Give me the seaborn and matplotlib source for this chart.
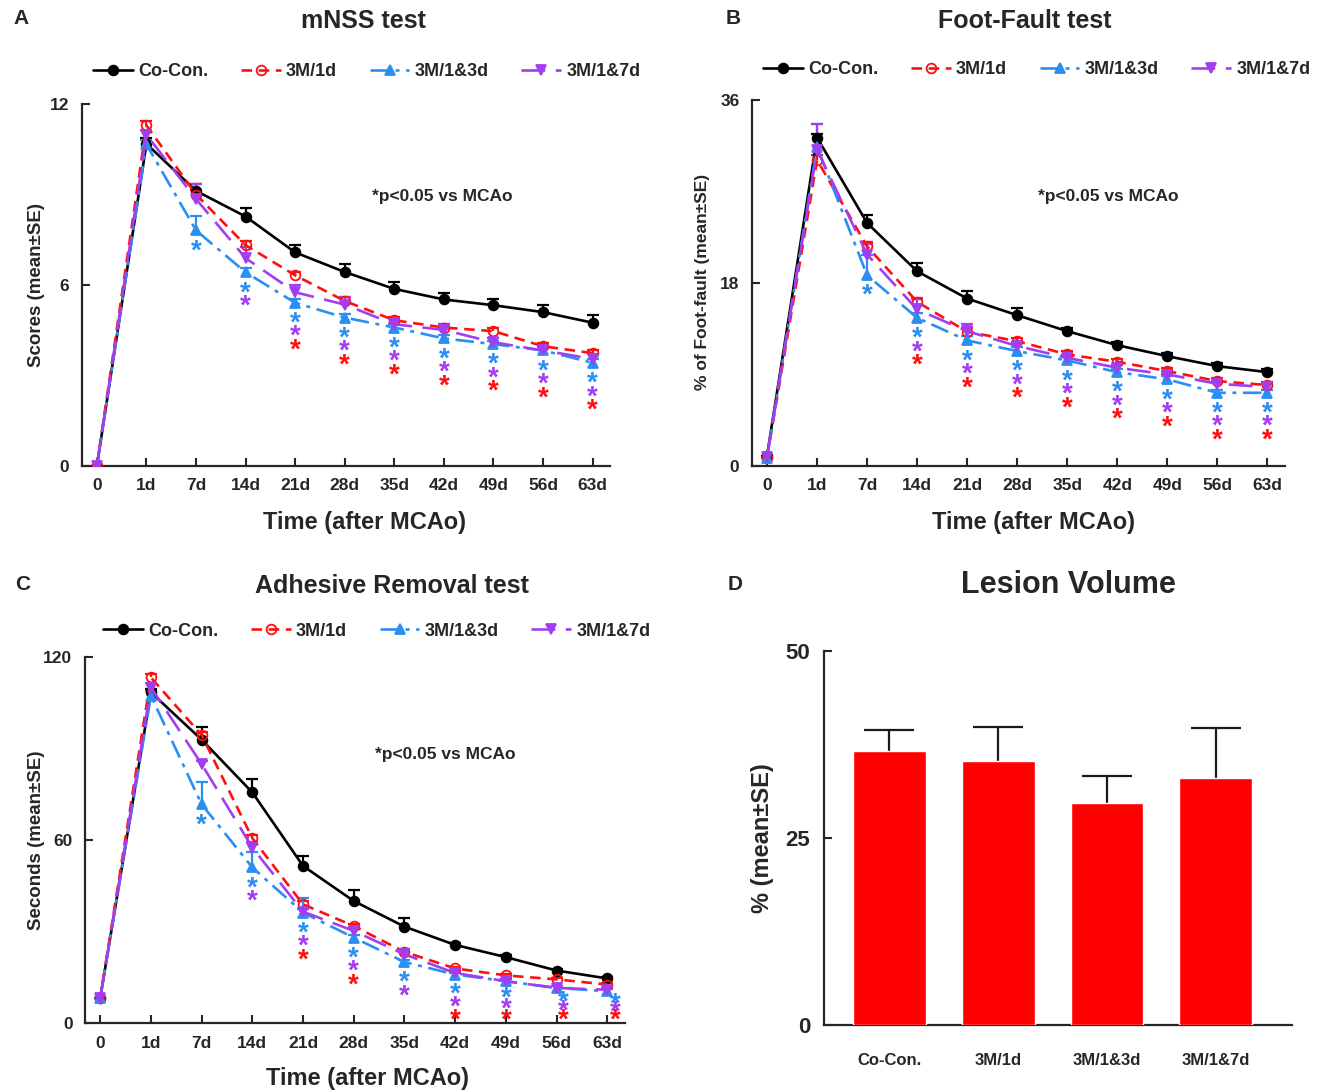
import matplotlib
matplotlib.use('Agg')
import matplotlib.pyplot as plt
import seaborn as sns
import numpy as np
import pandas as pd

sns.set_theme(style='ticks')
plt.rcParams['font.family'] = ['Liberation Sans', 'DejaVu Sans']
plt.rcParams['font.weight'] = 'bold'
plt.rcParams['axes.labelweight'] = 'bold'

# ---------------- data ----------------
time_labels = ['0', '1d', '7d', '14d', '21d', '28d', '35d', '42d', '49d', '56d', '63d']
groups = ['Co-Con.', '3M/1d', '3M/1&3d', '3M/1&7d']

# Panel A: mNSS scores
mnss_cocon = [0, 10.68, 9.12, 8.27, 7.08, 6.43, 5.87, 5.52, 5.33, 5.10, 4.75]
mnss_1d    = [0, 11.29, 9.00, 7.32, 6.32, 5.47, 4.83, 4.59, 4.47, 3.97, 3.74]
mnss_13d   = [0, 10.66, 7.81, 6.42, 5.41, 4.92, 4.59, 4.23, 4.04, 3.83, 3.42]
mnss_17d   = [0, 10.98, 8.85, 6.89, 5.76, 5.35, 4.70, 4.51, 4.10, 3.83, 3.55]
mnss_err_cocon = [0, 0.2, 0.24, 0.27, 0.24, 0.26, 0.22, 0.22, 0.22, 0.23, 0.25]
mnss_err_1d    = [0, 0.15, 0.15, 0.15, 0.12, 0.12, 0.12, 0.12, 0.12, 0.12, 0.12]
mnss_err_13d   = [0, 0.15, 0.49, 0.15, 0.12, 0.12, 0.12, 0.12, 0.12, 0.12, 0.12]
mnss_err_17d   = [0, 0.15, 0.50, 0.36, 0.25, 0.25, 0.20, 0.20, 0.15, 0.15, 0.15]
mnss_sig_1d  = [0, 0, 0, 0, 1, 1, 1, 1, 1, 1, 1]
mnss_sig_13d = [0, 0, 1, 1, 1, 1, 1, 1, 1, 1, 1]
mnss_sig_17d = [0, 0, 0, 1, 1, 1, 1, 1, 1, 1, 1]

# Panel B: Foot-fault %
ff_cocon = [1.0, 32.3, 23.9, 19.15, 16.47, 14.83, 13.26, 11.88, 10.8, 9.82, 9.23]
ff_1d    = [0.8, 30.1, 21.6, 16.14, 13.2, 12.28, 10.97, 10.25, 9.33, 8.35, 7.96]
ff_13d   = [0.8, 31.4, 18.76, 14.57, 12.35, 11.3, 10.38, 9.23, 8.52, 7.2, 7.2]
ff_17d   = [0.9, 31.1, 20.8, 15.4, 13.26, 11.8, 10.64, 9.66, 9.0, 8.09, 7.76]
ff_err_cocon = [0, 0.4, 0.8, 0.8, 0.7, 0.7, 0.3, 0.3, 0.3, 0.3, 0.3]
ff_err_1d    = [0, 0.5, 0.4, 0.4, 0.4, 0.3, 0.3, 0.3, 0.3, 0.3, 0.3]
ff_err_13d   = [0, 2.2, 2.0, 0.5, 0.4, 0.4, 0.3, 0.3, 0.3, 0.3, 0.3]
ff_err_17d   = [0, 2.5, 1.0, 1.0, 0.7, 0.4, 0.3, 0.3, 0.3, 0.3, 0.3]
ff_sig_1d  = [0, 0, 0, 1, 1, 1, 1, 1, 1, 1, 1]
ff_sig_13d = [0, 0, 1, 1, 1, 1, 1, 1, 1, 1, 1]
ff_sig_17d = [0, 0, 0, 1, 1, 1, 1, 1, 1, 1, 1]

# Panel C: Adhesive removal seconds
ar_cocon = [8.2, 108.4, 92.9, 75.6, 51.5, 40.0, 31.6, 25.6, 21.6, 17.2, 14.6]
ar_1d    = [8.2, 113.3, 94.4, 60.6, 38.9, 31.8, 23.3, 17.9, 15.6, 14.3, 12.6]
ar_13d   = [8.2, 107.3, 71.7, 51.0, 36.2, 28.0, 20.0, 15.9, 13.7, 11.5, 10.4]
ar_17d   = [8.2, 110.0, 84.9, 57.5, 36.5, 30.2, 22.5, 16.4, 13.7, 11.5, 10.9]
ar_err_cocon = [0, 1.0, 4.3, 4.4, 3.3, 3.5, 2.7, 0.6, 0.6, 0.6, 0.6]
ar_err_1d    = [0, 1.0, 1.0, 1.0, 1.0, 0.8, 0.8, 0.6, 0.6, 0.6, 0.6]
ar_err_13d   = [0, 1.5, 7.3, 5.0, 4.9, 1.0, 0.8, 0.6, 0.6, 0.6, 0.6]
ar_err_17d   = [0, 1.5, 1.0, 2.0, 1.0, 1.0, 0.8, 0.6, 0.6, 0.6, 0.6]
ar_sig_1d  = [0, 0, 0, 0, 1, 1, 0, 1, 1, 1, 1]
ar_sig_13d = [0, 0, 1, 1, 1, 1, 1, 1, 1, 1, 1]
ar_sig_17d = [0, 0, 0, 1, 1, 1, 1, 1, 1, 1, 1]

# Panel D: Lesion volume
lesion_mean = [36.6, 35.3, 29.7, 33.0]
lesion_err  = [2.8, 4.6, 3.6, 6.7]

# ---------------- styles ----------------
C_BLACK = '#000000'
C_RED = '#ff1010'
C_BLUE = '#2a8ff0'
C_PURPLE = '#a23ef0'
series_style = [
    dict(color=C_BLACK, marker='o', ls='-', mfc=C_BLACK),
    dict(color=C_RED, marker='o', ls=(0, (4, 2.5)), mfc='none'),
    dict(color=C_BLUE, marker='^', ls=(0, (7, 2.5, 1.5, 2.5)), mfc=C_BLUE),
    dict(color=C_PURPLE, marker='v', ls=(0, (9, 4)), mfc=C_PURPLE),
]

W, H = 1322, 1092
DPI = 100
fig = plt.figure(figsize=(W / DPI, H / DPI), dpi=DPI)
PX2PT = 72.0 / DPI


def add_ax(l, r, t, b):
    return fig.add_axes([l / W, 1 - b / H, (r - l) / W, (b - t) / H])


def fx(px):
    return px / W


def fy(py):
    return 1 - py / H


def style_axis(ax, ymax, yticks, ticksize=12.5):
    sns.despine(ax=ax)
    ax.spines['left'].set_linewidth(1.6)
    ax.spines['bottom'].set_linewidth(1.6)
    ax.tick_params(direction='in', length=6, width=1.5, labelsize=ticksize, pad=9)
    ax.set_ylim(0, ymax)
    ax.set_yticks(yticks)
    ax.set_yticklabels([str(v) for v in yticks], fontweight='bold')
    ax.set_xlabel('')
    ax.set_ylabel('')


def up_errors(ax, x, vals, err, color, capw, z):
    vals = np.asarray(vals, float)
    err = np.asarray(err, float)
    ax.vlines(x, vals, vals + err, colors=color, linewidth=1.6, zorder=z)
    ax.plot(x, vals + err, linestyle='none', marker='_', markersize=capw,
            markeredgewidth=1.6, color=color, zorder=z)


def line_panel(ax, series, errs, sigs, ymax, yticks, legend_xy, star_dx=None,
               star_first=15.0, star_step=9.7):
    star_dx = star_dx or {}
    x = np.arange(len(time_labels))
    ax.set_xlim(-0.3, 10.35)
    ax.set_ylim(0, ymax)
    for name, vals, err, st in zip(groups, series, errs, series_style):
        df = pd.DataFrame({'t': x, 'v': vals})
        sns.lineplot(data=df, x='t', y='v', ax=ax, color=st['color'], linestyle=st['ls'],
                     marker=st['marker'], markersize=7, mfc=st['mfc'], mec=st['color'],
                     mew=1.3, linewidth=1.9, label=name, errorbar=None, zorder=3)
        up_errors(ax, x, vals, err, st['color'], 9, 2)
    # significance stars: blue, purple, red stacked below lowest point
    lows = np.min(np.array(series), axis=0)
    order = [(sigs[1], C_BLUE), (sigs[2], C_PURPLE), (sigs[0], C_RED)]
    ax_h_px = ax.get_position().height * H
    for i in range(len(x)):
        cols = [col for sg, col in order if sg[i]]
        n = len(cols)
        if n == 0:
            continue
        dist_pt = (lows[i] / ymax) * ax_h_px * PX2PT
        need = star_first + star_step * (n - 1)
        avail = dist_pt - 1.5
        f = min(1.0, avail / need)
        for k, col in enumerate(cols):
            off = f * (star_first + k * star_step)
            ax.annotate('*', (x[i], lows[i]), xytext=(star_dx.get(i, 0), -off),
                        textcoords='offset points', ha='center', va='center',
                        color=col, fontsize=20, fontweight='bold', zorder=4)
    ax.set_xticks(x)
    ax.set_xticklabels(time_labels, fontweight='bold')
    style_axis(ax, ymax, yticks)
    leg = ax.legend(loc='center left', bbox_to_anchor=(fx(legend_xy[0]), fy(legend_xy[1])),
                    bbox_transform=fig.transFigure, ncol=4, frameon=False, fontsize=13,
                    handlelength=2.2, handletextpad=0.3, columnspacing=1.8, borderpad=0,
                    borderaxespad=0)
    for t in leg.get_texts():
        t.set_fontweight('bold')


# Panel A
axA = add_ax(82, 610, 104, 466)
line_panel(axA, [mnss_cocon, mnss_1d, mnss_13d, mnss_17d],
           [mnss_err_cocon, mnss_err_1d, mnss_err_13d, mnss_err_17d],
           [mnss_sig_1d, mnss_sig_13d, mnss_sig_17d], 12, [0, 6, 12], (93, 72))
# Panel B
axB = add_ax(752, 1285, 100, 466)
line_panel(axB, [ff_cocon, ff_1d, ff_13d, ff_17d],
           [ff_err_cocon, ff_err_1d, ff_err_13d, ff_err_17d],
           [ff_sig_1d, ff_sig_13d, ff_sig_17d], 36, [0, 18, 36], (763, 70))
# Panel C
axC = add_ax(85, 625, 657, 1023)
line_panel(axC, [ar_cocon, ar_1d, ar_13d, ar_17d],
           [ar_err_cocon, ar_err_1d, ar_err_13d, ar_err_17d],
           [ar_sig_1d, ar_sig_13d, ar_sig_17d], 120, [0, 60, 120], (103, 631),
           star_dx={9: 5, 10: 6})

# Panel D
axD = add_ax(824, 1292, 651, 1025)
dfD = pd.DataFrame({'group': groups, 'val': lesion_mean})
sns.barplot(data=dfD, x='group', y='val', ax=axD, color='#ff0000', saturation=1,
            width=0.67, errorbar=None)
for p in axD.patches:
    p.set_zorder(3)
up_errors(axD, np.arange(4), lesion_mean, lesion_err, '#1a1a1a', 36, 1)
axD.set_xlim(-0.6, 3.7)
style_axis(axD, 50, [0, 25, 50], ticksize=16)
axD.tick_params(axis='x', length=0, labelsize=12, pad=20)
axD.tick_params(axis='y', pad=10)
axD.set_xticks(range(4))
axD.set_xticklabels(groups, fontweight='bold')

# ---------------- texts ----------------
def T(px, py, s, **kw):
    fig.text(fx(px), fy(py), s, **kw)

T(13, 18, 'A', fontsize=15, fontweight='bold', ha='left', va='center')
T(726, 18, 'B', fontsize=15, fontweight='bold', ha='left', va='center')
T(15, 585, 'C', fontsize=15, fontweight='bold', ha='left', va='center')
T(728, 585, 'D', fontsize=15, fontweight='bold', ha='left', va='center')

T(363, 21, 'mNSS test', fontsize=18, fontweight='bold', ha='center', va='center')
T(1025, 21, 'Foot-Fault test', fontsize=18, fontweight='bold', ha='center', va='center')
T(392, 586, 'Adhesive Removal test', fontsize=18, fontweight='bold', ha='center', va='center')
T(1068, 585, 'Lesion Volume', fontsize=22, fontweight='bold', ha='center', va='center')

for (px, py) in [(442, 197), (1108, 197), (445, 754)]:
    T(px, py, '*p<0.05 vs MCAo', fontsize=12.5, fontweight='bold', ha='center', va='center')

for (px, py) in [(365, 522), (1033, 522), (367, 1079)]:
    T(px, py, 'Time (after MCAo)', fontsize=17, fontweight='bold', ha='center', va='center')

T(37, 285, 'Scores (mean±SE)', fontsize=13.5, fontweight='bold', ha='center', va='center', rotation=90)
T(703, 282, '% of Foot-fault (mean±SE)', fontsize=12.5, fontweight='bold', ha='center', va='center', rotation=90)
T(37, 840, 'Seconds (mean±SE)', fontsize=13.5, fontweight='bold', ha='center', va='center', rotation=90)
T(763, 838, '% (mean±SE)', fontsize=17, fontweight='bold', ha='center', va='center', rotation=90)

fig.savefig('out.png', dpi=DPI)
